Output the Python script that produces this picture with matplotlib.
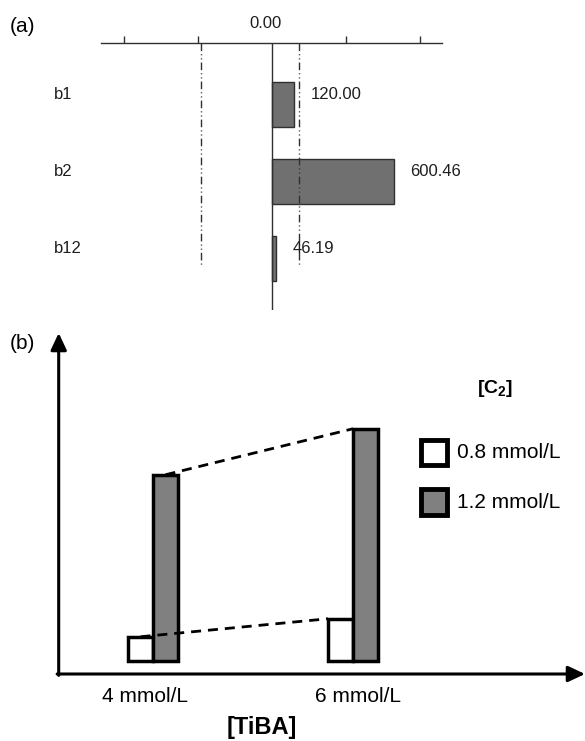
import matplotlib.pyplot as plt
import matplotlib.transforms as mtransforms
from matplotlib.patches import Rectangle

plt.rcParams["font.family"] = ["Liberation Sans", "DejaVu Sans"]
plt.rcParams["mathtext.fontset"] = "custom"
plt.rcParams["mathtext.rm"] = "Liberation Sans"
plt.rcParams["mathtext.bf"] = "Liberation Sans:bold"

W, H = 585, 741

# (a) effect chart
terms = ["b1", "b2", "b12"]
effects = [108.0, 592.0, 18.0]          # bar lengths
effect_labels = ["120.00", "600.46", "46.19"]
limits = [-345.0, 129.0]                # dash-dot reference lines
top_ticks = [-720, -360, 360, 720]

# (b) schematic
tiba = ["4 mmol/L", "6 mmol/L"]
c2 = ["0.8 mmol/L", "1.2 mmol/L"]
low_c2 = [2.45, 4.25]
high_c2 = [18.65, 23.25]

INK = "#1e1e1e"


def box(l, t, r, b):
    """pixel box -> figure fraction rect"""
    return [l / W, 1 - b / H, (r - l) / W, (b - t) / H]


def fx(x):
    return x / W


def fy(y):
    return 1 - y / H


fig = plt.figure(figsize=(W / 100, H / 100), dpi=100)

# ---------------- panel (a) ----------------
ax = fig.add_axes(box(101, 43.3, 442, 310))
pos = list(range(len(terms)))
ax.barh(pos, effects, height=0.575, color="#707070", edgecolor="#303030",
        lw=1.0, zorder=2)
ax.axvline(0, color="#303030", lw=1.0, zorder=3)
for v in limits:
    ax.plot([v, v], [-0.795, 2.11], color="#303030", lw=1.0,
            ls=(0, (5.5, 2.2, 0.8, 2.2, 0.8, 2.2)), zorder=4)
ax.set_xlim(-832, 827)
ax.set_ylim(2.669, -0.795)
ax.xaxis.tick_top()
ax.set_xticks(top_ticks)
ax.tick_params(axis="x", direction="out", length=4.8, width=1.0,
               color="#303030", labeltop=False)
ax.set_yticks([])
for s in ["left", "right", "bottom"]:
    ax.spines[s].set_visible(False)
ax.spines["top"].set_color("#303030")
ax.spines["top"].set_linewidth(1.0)

lab_tr = mtransforms.blended_transform_factory(ax.transAxes, ax.transData)
for i, (t, v, s) in enumerate(zip(terms, effects, effect_labels)):
    ax.text(-0.138, i, t, transform=lab_tr + mtransforms.ScaledTranslation(0, 4 / 72, fig.dpi_scale_trans),
            ha="left", va="baseline", fontsize=12, color=INK)
    ax.annotate(s, (v, i), xytext=(11.9, 4), textcoords="offset points",
                ha="left", va="baseline", fontsize=12, color=INK, zorder=5)
ax.annotate("0.00", (0, 1), xycoords=("data", "axes fraction"),
            xytext=(-5, 10.8), textcoords="offset points",
            ha="center", va="baseline", fontsize=12, color=INK)
fig.text(fx(10), fy(32), "(a)", fontsize=15, va="baseline", ha="left")

# ---------------- panel (b) ----------------
bx = fig.add_axes(box(58.7, 333, 585, 674))
w = 0.125
xs = list(range(len(tiba)))
bx.bar([x - w / 2 for x in xs], low_c2, width=w, color="white",
       edgecolor="black", lw=2.5, zorder=2)
bx.bar([x + w / 2 for x in xs], high_c2, width=w, color="#808080",
       edgecolor="black", lw=2.5, zorder=2)
bx.plot([xs[0] - w / 2, xs[1] - w], low_c2, color="black", lw=2,
        ls=(0, (3.6, 2.5)), zorder=3)
bx.plot([xs[0] + w / 2, xs[1]], high_c2, color="black", lw=2,
        ls=(0, (3.6, 2.5)), zorder=3)
bx.set_xlim(-0.4715, 2.16)
bx.set_ylim(-1.275, 32.825)
for s in bx.spines.values():
    s.set_visible(False)
bx.set_yticks([])
bx.set_xticks(xs)
bx.set_xticklabels(tiba, fontsize=15)
bx.tick_params(axis="x", length=0, pad=19.8)
for lab, dx in zip(bx.get_xticklabels(), [-8, 5]):
    lab.set_va("baseline")
    lab.set_transform(lab.get_transform() +
                      mtransforms.ScaledTranslation(dx / 100, 0, fig.dpi_scale_trans))
bx.set_xlabel("[TiBA]", fontsize=17, fontweight="bold")
bx.xaxis.set_label_coords(0.3863, -0.175)
bx.xaxis.label.set_va("baseline")

arrow = dict(arrowstyle="-|>,head_length=0.85,head_width=0.4", lw=2.2,
             color="black", shrinkA=0, shrinkB=0, mutation_scale=12)
bx.annotate("", xy=(1, 0), xytext=(-0.003, 0), xycoords="axes fraction",
            arrowprops=arrow, annotation_clip=False)
bx.annotate("", xy=(0, 1), xytext=(0, -0.004), xycoords="axes fraction",
            arrowprops=arrow, annotation_clip=False)
fig.text(fx(10), fy(349), "(b)", fontsize=15, va="baseline", ha="left")

# legend
fig.text(fx(477), fy(393), r"$\mathbf{[C_2]}$", fontsize=14,
         ha="left", va="baseline")
for (top, bot), fc, txt, base in zip([(439.5, 464.5), (488.5, 514.5)],
                                     ["white", "#808080"], c2, [458, 508]):
    fig.add_artist(Rectangle((fx(420.5), fy(bot)), (447.5 - 420.5) / W,
                             (bot - top) / H, transform=fig.transFigure,
                             facecolor=fc, edgecolor="black", lw=3.5))
    fig.text(fx(457), fy(base), txt, fontsize=15, ha="left", va="baseline")

fig.savefig("out.png", dpi=100, facecolor="white")
